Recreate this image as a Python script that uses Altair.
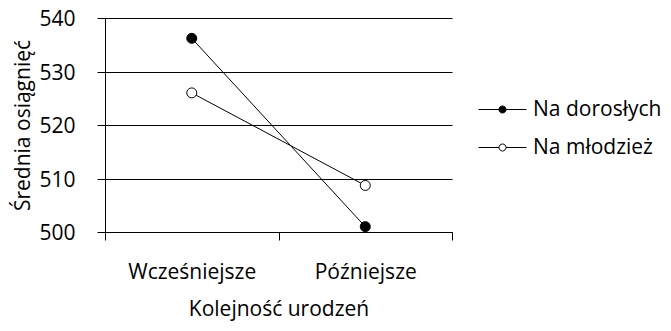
import altair as alt
import pandas as pd

categories = ["Wcześniejsze", "Późniejsze"]
series = ["Na dorosłych", "Na młodzież"]
adult = [536.2, 501.0]
youth = [526.0, 508.7]
y_ticks = [500, 510, 520, 530, 540]

rows = []
for name, vals in zip(series, [adult, youth]):
    for i, (c, v) in enumerate(zip(categories, vals)):
        rows.append({"series": name, "cat": c, "xpos": i + 0.5, "value": v})
df = pd.DataFrame(rows)

FONT = "Open Sans"
FS = 21
label_expr = "".join(f"datum.value == {i + 0.5} ? '{c}' : " for i, c in enumerate(categories)) + "''"
x_vals = sorted(set([float(i) for i in range(len(categories) + 1)] + [i + 0.5 for i in range(len(categories))]))

x_enc = alt.X(
    "xpos:Q",
    scale=alt.Scale(domain=[0, len(categories)], nice=False, zero=False),
    axis=alt.Axis(
        values=x_vals,
        labelExpr=label_expr,
        tickOpacity={"condition": {"test": "datum.value % 1 != 0", "value": 0}, "value": 1},
        tickSize=8,
        tickColor="black",
        domainColor="black",
        grid=False,
        labelPadding=21,
        labelFont=FONT,
        labelFontSize=FS,
        labelColor="black",
        title="Kolejność urodzeń",
        titleFont=FONT,
        titleFontSize=FS,
        titleFontWeight="normal",
        titleColor="black",
        titlePadding=16,
    ),
)
y_enc = alt.Y(
    "value:Q",
    scale=alt.Scale(domain=[y_ticks[0], y_ticks[-1]], nice=False, zero=False),
    axis=alt.Axis(
        values=y_ticks,
        grid=True,
        gridColor="black",
        gridOpacity=1,
        tickSize=8,
        tickColor="black",
        domainColor="black",
        labelPadding=22,
        labelOffset=1.5,
        labelFont=FONT,
        labelFontSize=FS,
        labelColor="black",
        title="Średnia osiągnięć",
        titleFont=FONT,
        titleFontSize=FS,
        titleFontWeight="normal",
        titleColor="black",
        titlePadding=5,
    ),
)

r = 0.175
sym = f"M-1.2,0L-{r},0M{r},0L1.2,0M-{r},0A{r},{r} 0 1 1 {r},0A{r},{r} 0 1 1 -{r},0Z"

lines = alt.Chart(df).mark_line(color="black", strokeWidth=1).encode(
    x=x_enc, y=y_enc, detail="series:N"
)
points = alt.Chart(df).mark_point(filled=True, size=100, stroke="black", strokeWidth=1, opacity=1).encode(
    x=x_enc,
    y=y_enc,
    fill=alt.Fill(
        "series:N",
        scale=alt.Scale(domain=series, range=["black", "white"]),
        legend=alt.Legend(
            title=None,
            orient="none",
            legendX=377,
            legendY=71,
            symbolType=sym,
            symbolSize=1600,
            symbolStrokeColor="black",
            symbolStrokeWidth=1,
            symbolOpacity=1,
            labelFont=FONT,
            labelFontSize=FS,
            labelColor="black",
            labelOffset=10,
            rowPadding=7,
        ),
    ),
)

chart = (
    alt.layer(lines, points)
    .properties(width=347, height=214, autosize=alt.AutoSizeParams(type="none"),
                padding={"left": 97, "top": 10, "right": 211, "bottom": 91})
    .configure_view(stroke=None)
)
chart.save("out.html", embed_options={"renderer": "svg", "actions": False})
